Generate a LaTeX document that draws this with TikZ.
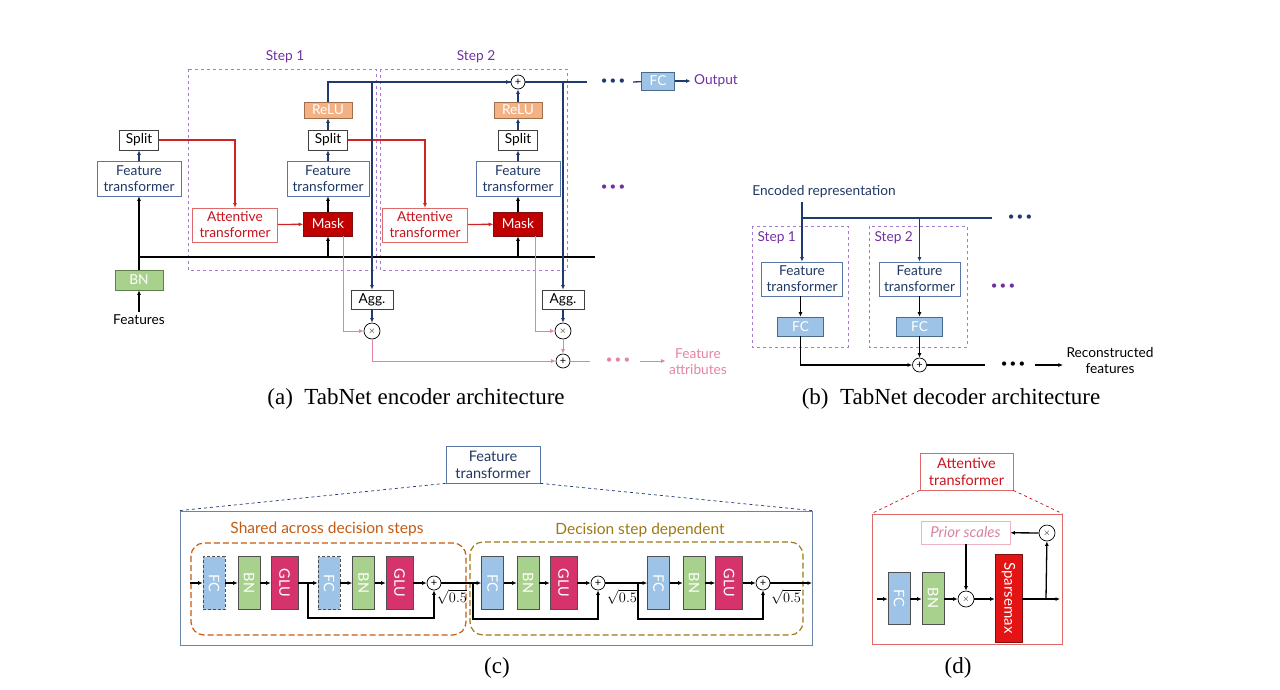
\documentclass[tikz,border=0pt]{standalone}
\usepackage{fontspec}
\setmainfont{Lato}
\newfontfamily\capfont{Liberation Serif}
\usepackage{graphicx}
\usepackage{tikz}
\usetikzlibrary{arrows.meta}
\definecolor{navyln}{HTML}{1F3A6E}
\definecolor{navytxt}{HTML}{1F3864}
\definecolor{ftedge}{HTML}{5877A6}
\definecolor{boxedge}{HTML}{404040}
\definecolor{redln}{HTML}{D02424}
\definecolor{atred}{HTML}{C8141E}
\definecolor{atedge}{HTML}{E06A6A}
\definecolor{maskfill}{HTML}{C00000}
\definecolor{maskedge}{HTML}{7A1010}
\definecolor{relufill}{HTML}{F4B183}
\definecolor{reluedge}{HTML}{A0704E}
\definecolor{pinkln}{HTML}{E4859F}
\definecolor{purpletxt}{HTML}{7030A0}
\definecolor{stepedge}{HTML}{A679D2}
\definecolor{bnfill}{HTML}{A9D18E}
\definecolor{bnedge}{HTML}{5F7F4C}
\definecolor{fcfill}{HTML}{9DC3E6}
\definecolor{fcedge}{HTML}{4A6A8C}
\definecolor{glufill}{HTML}{D6336C}
\definecolor{blkedge}{HTML}{505050}
\definecolor{bigedge}{HTML}{6A85A8}
\definecolor{orangec}{HTML}{C55A11}
\definecolor{olivec}{HTML}{9C7A16}
\definecolor{sparsefill}{HTML}{E41414}
\definecolor{prioredge}{HTML}{EDB3C3}
\definecolor{priortxt}{HTML}{D9859F}
\newcommand{\threedots}{{\fontsize{11.5}{12}\selectfont\textbullet\hspace{2.2pt}\textbullet\hspace{2.2pt}\textbullet}}

\begin{document}
\begin{tikzpicture}[x=1pt, y=-1pt, >={Latex[length=4.5pt,width=4pt]},
  every node/.style={font=\fontsize{13.7}{16}\selectfont},
  box/.style={draw=boxedge, fill=white, line width=.7pt, inner sep=0pt, align=center},
  ftbox/.style={box, draw=ftedge, text=navytxt, minimum width=84pt, minimum height=35pt},
  splitbox/.style={box, minimum width=39pt, minimum height=20pt},
  relubox/.style={box, draw=reluedge, fill=relufill, text=white, minimum width=48pt, minimum height=16pt},
  maskbox/.style={box, draw=maskedge, fill=maskfill, text=white, minimum width=49pt, minimum height=24pt},
  atbox/.style={box, draw=atedge, text=atred, minimum width=85pt, minimum height=34pt},
  aggbox/.style={box, minimum width=42pt, minimum height=19pt},
  bnbox/.style={box, draw=bnedge, fill=bnfill, text=white, minimum width=48pt, minimum height=20pt},
  fcbox/.style={box, draw=fcedge, fill=fcfill, text=white, minimum width=33pt, minimum height=18pt},
  op/.style={circle, draw, fill=white, line width=.7pt, inner sep=0pt, minimum size=14pt, font=\fontsize{11}{11}\selectfont},
  stepbox/.style={draw=stepedge, dashed, line width=.9pt},
  steplabel/.style={text=purpletxt},
  wire/.style={line width=1.3pt},
  navyw/.style={wire, draw=navyln},
  redw/.style={wire, draw=redln},
  pinkw/.style={draw=pinkln, line width=.9pt},
  blk/.style={draw=blkedge, line width=.6pt, inner sep=0pt, minimum width=22pt, minimum height=53pt, text=white, font=\fontsize{14.5}{15}\selectfont},
  fcblk/.style={blk, fill=fcfill},
  bnblk/.style={blk, fill=bnfill},
  glublk/.style={blk, fill=glufill, minimum width=27pt},
  captxt/.style={font=\capfont\fontsize{23}{26}\selectfont}
]
\useasboundingbox (0,0) rectangle (1280,689);

% (a) encoder
\draw[stepbox] (188,69) rectangle (376,270);
\draw[stepbox] (380,69) rectangle (567,270);
\node[steplabel] (s1) at (285,57) {Step 1};
\node[steplabel] (s2) at (476,57) {Step 2};
\node (feat) at (139,320) {Features};
\node[bnbox] (bn) at (139,280) {BN};
\node[ftbox] (ft0) at (139,178.5) {Feature\\transformer};
\node[splitbox] (sp0) at (139,140) {Split};
\node[atbox] (at1) at (235,225) {Attentive\\transformer};
\node[maskbox] (mask1) at (328,224) {Mask};
\node[ftbox, minimum width=82pt] (ft1) at (328,178.5) {Feature\\transformer};
\node[splitbox] (sp1) at (328,140) {Split};
\node[relubox] (relu1) at (328,110) {ReLU};
\node[atbox] (at2) at (425,225) {Attentive\\transformer};
\node[maskbox] (mask2) at (518,224) {Mask};
\node[ftbox] (ft2) at (518,178.5) {Feature\\transformer};
\node[splitbox] (sp2) at (518,140) {Split};
\node[relubox] (relu2) at (518,110) {ReLU};
\node[op] (plT) at (518,82) {+};
\node[aggbox] (agg1) at (372,299.5) {Agg.};
\node[op, minimum size=16pt, font=\fontsize{9}{9}\selectfont] (mul1) at (372,331) {$\times$};
\node[aggbox] (agg2) at (563,299.5) {Agg.};
\node[op, minimum size=16pt, font=\fontsize{9}{9}\selectfont] (mul2) at (563,331) {$\times$};
\node[op] (plB) at (563,361) {+};
\coordinate (busW) at (139,257);
\coordinate (busE) at (595,257);
\coordinate (topE) at (587,82);
\node[text=navyln] (dotsT) at (613,82) {\threedots};
\coordinate (fcIn) at (633,82);
\node[fcbox] (fcO) at (658,81) {FC};
\node[text=purpletxt] (out) at (716,81) {Output};
\node[text=purpletxt] (dotsM) at (613,188) {\threedots};
\coordinate (pinkE) at (590,361);
\node[text=pinkln] (dotsB) at (618,361) {\threedots};
\coordinate (pinkA) at (640,361);
\node[text=pinkln, align=center] (attr) at (698,362) {Feature\\attributes};

\draw[wire,->] (feat) -- (bn);
\draw[wire,->] (bn) -- (ft0);
\draw[wire] (busW) -- (busE);
\draw[navyw,->] (ft0) -- (sp0);
\draw[redw,->] (sp0) -| (at1);
\draw[redw,->] (at1) -- (mask1);
\draw[wire,->] (mask1 |- busW) -- (mask1);
\draw[wire,->] (mask1) -- (ft1);
\draw[navyw,->] (ft1) -- (sp1);
\draw[navyw,->] (sp1) -- (relu1);
\draw[navyw] (relu1) |- (plT);
\draw[redw,->] (sp1) -| (at2);
\draw[redw,->] (at2) -- (mask2);
\draw[wire,->] (mask2 |- busW) -- (mask2);
\draw[wire,->] (mask2) -- (ft2);
\draw[navyw,->] (ft2) -- (sp2);
\draw[navyw,->] (sp2) -- (relu2);
\draw[navyw,->] (relu2) -- (plT);
\draw[navyw,->] (relu1 |- plT) -- (plT);
\draw[navyw] (plT) -- (topE);
\draw[navyw,->] (agg1 |- plT) -- (agg1);
\draw[navyw,->] (agg1) -- (mul1);
\draw[navyw,->] (agg2 |- plT) -- (agg2);
\draw[navyw,->] (agg2) -- (mul2);
\draw[pinkw,->] ([xshift=-9pt]mask1.south east) |- (mul1);
\draw[pinkw,->] ([xshift=-7pt]mask2.south east) |- (mul2);
\draw[pinkw,->] (mul1) |- (plB);
\draw[pinkw,->] (mul2) -- (plB);
\draw[pinkw] (plB) -- (pinkE);
\draw[pinkw,->] (pinkA) -- (attr.west |- pinkA);
\draw[navyw] (fcIn) -- (fcO);
\draw[navyw,->] (fcO) -- (out);
\node[captxt] (capA) at (416,399) {(a)\ \ TabNet encoder architecture};

% (b) decoder
\draw[stepbox] (752,226) rectangle (848,347);
\draw[stepbox] (869,226) rectangle (967,347);
\node[steplabel, anchor=west] (ds1) at (754,238) {Step 1};
\node[steplabel, anchor=west] (ds2) at (871,238) {Step 2};
\node[text=navytxt] (enc) at (824,192) {Encoded representation};
\node[ftbox, minimum width=81pt, minimum height=34pt] (dft1) at (802,279) {Feature\\transformer};
\node[ftbox, minimum width=81pt, minimum height=34pt] (dft2) at (919.5,279) {Feature\\transformer};
\node[fcbox, minimum width=46pt, minimum height=19pt] (dfc1) at (800.5,326.5) {FC};
\node[fcbox, minimum width=46pt, minimum height=19pt] (dfc2) at (919.5,326.5) {FC};
\node[op] (dpl) at (919.5,365) {+};
\coordinate (dEnd) at (992,218);
\node[text=navyln] (ddotsT) at (1020,218) {\threedots};
\node[text=purpletxt] (ddotsM) at (1003,287) {\threedots};
\coordinate (dE) at (985,365);
\node (ddotsB) at (1013,365) {\threedots};
\coordinate (dA) at (1035,365);
\node[align=center] (rec) at (1110,361) {Reconstructed\\features};
\draw[navyw,->] (dft1 |- enc.south) -- (dft1);
\draw[navyw] (dft1 |- dEnd) -- (dEnd);
\draw[navyw,->] (dft2 |- dEnd) -- (dft2);
\draw[wire,->] (dft1.south -| dfc1) -- (dfc1);
\draw[wire,->] (dft2) -- (dfc2);
\draw[wire,->] (dfc1) |- (dpl);
\draw[wire,->] (dfc2) -- (dpl);
\draw[wire] (dpl) -- (dE);
\draw[wire,->] (dA) -- (rec.west |- dA);
\node[captxt] (capB) at (951,399) {(b)\ \ TabNet decoder architecture};

% (c) feature transformer
\node[box, draw=ftedge, text=navytxt, minimum width=94pt, minimum height=37pt, font=\fontsize{14.5}{17}\selectfont] (ftT) at (493,464.5) {Feature\\transformer};
\node[draw=bigedge, line width=.8pt, minimum width=632pt, minimum height=134pt, inner sep=0pt] (bigC) at (496,578) {};
\draw[draw=navyln, dashed, line width=.7pt] (ftT.south west) -- (bigC.north west);
\draw[draw=navyln, dashed, line width=.7pt] (ftT.south east) -- (bigC.north east);
\draw[draw=orangec, line width=1.2pt, dash pattern=on 6pt off 3pt, rounded corners=13pt] (191,543) rectangle (466,635);
\draw[draw=olivec, line width=1.2pt, dash pattern=on 6pt off 3pt, rounded corners=13pt] (470,542) rectangle (803,635);
\node[text=orangec, font=\fontsize{15.5}{17}\selectfont] (shrd) at (327,529) {Shared across decision steps};
\node[text=olivec, font=\fontsize{15.5}{17}\selectfont] (dep) at (640,530) {Decision step dependent};
\coordinate (cIn) at (190,583);
\node[fcblk, densely dashed] (fcA) at (214,583) {\rotatebox{-90}{FC}};
\node[bnblk] (bnA) at (249,583) {\rotatebox{-90}{BN}};
\node[glublk] (gluA) at (284.5,583) {\rotatebox{-90}{GLU}};
\node[fcblk, densely dashed] (fcB) at (329,583) {\rotatebox{-90}{FC}};
\node[bnblk] (bnB) at (363.5,583) {\rotatebox{-90}{BN}};
\node[glublk] (gluB) at (399.5,583) {\rotatebox{-90}{GLU}};
\node[op] (plA) at (434,583) {+};
\node[fcblk] (fcC) at (492.5,583) {\rotatebox{-90}{FC}};
\node[bnblk] (bnC) at (528,583) {\rotatebox{-90}{BN}};
\node[glublk] (gluC) at (563.5,583) {\rotatebox{-90}{GLU}};
\node[op] (plC) at (598,583) {+};
\node[fcblk] (fcD) at (658.5,583) {\rotatebox{-90}{FC}};
\node[bnblk] (bnD) at (694,583) {\rotatebox{-90}{BN}};
\node[glublk] (gluD) at (729,583) {\rotatebox{-90}{GLU}};
\node[op] (plD) at (763,583) {+};
\coordinate (cOut) at (812,583);
\coordinate (skA) at (308,583);
\coordinate (skC) at (473,583);
\coordinate (skD) at (638,583);
\node[font=\fontsize{13.5}{13.5}\selectfont] (rtA) at (452,597) {$\sqrt{0.5}$};
\node[font=\fontsize{13.5}{13.5}\selectfont] (rtC) at (622,597) {$\sqrt{0.5}$};
\node[font=\fontsize{13.5}{13.5}\selectfont] (rtD) at (786,597) {$\sqrt{0.5}$};
\draw[wire,->] (cIn) -- (fcA);
\draw[wire,->] (fcA) -- (bnA);
\draw[wire,->] (bnA) -- (gluA);
\draw[wire,->] (gluA) -- (fcB);
\draw[wire,->] (fcB) -- (bnB);
\draw[wire,->] (bnB) -- (gluB);
\draw[wire,->] (gluB) -- (plA);
\draw[wire,->] (plA) -- (fcC);
\draw[wire,->] (fcC) -- (bnC);
\draw[wire,->] (bnC) -- (gluC);
\draw[wire,->] (gluC) -- (plC);
\draw[wire,->] (plC) -- (fcD);
\draw[wire,->] (fcD) -- (bnD);
\draw[wire,->] (bnD) -- (gluD);
\draw[wire,->] (gluD) -- (plD);
\draw[wire,->] (plD) -- (cOut);
\draw[wire,->] (skA) -- ++(0,35) -| (plA);
\draw[wire,->] (skC) -- ++(0,36) -| (plC);
\draw[wire,->] (skD) -- ++(0,36) -| (plD);
\node[captxt] (capC) at (497,668) {(c)};

% (d) attentive transformer
\node[box, draw=atedge, text=atred, minimum width=93pt, minimum height=37pt, font=\fontsize{14.5}{17}\selectfont] (atT) at (966.5,471.5) {Attentive\\transformer};
\node[draw=atedge, line width=.8pt, minimum width=190pt, minimum height=130pt, inner sep=0pt] (bigD) at (967,579) {};
\draw[draw=atred, dashed, line width=.7pt] (atT.south west) -- (bigD.north west);
\draw[draw=atred, dashed, line width=.7pt] (atT.south east) -- (bigD.north east);
\node[box, draw=prioredge, text=priortxt, minimum width=89pt, minimum height=23pt, font=\itshape\fontsize{15}{17}\selectfont] (prior) at (965.5,532.5) {Prior scales};
\node[op, minimum size=16pt, font=\fontsize{9}{9}\selectfont] (mulT) at (1047,533) {$\times$};
\coordinate (dIn) at (877,599);
\node[fcblk, minimum height=52pt] (fcE) at (899,598) {\rotatebox{-90}{FC}};
\node[bnblk, minimum height=52pt] (bnE) at (933,598) {\rotatebox{-90}{BN}};
\node[op, minimum size=16pt, font=\fontsize{9}{9}\selectfont] (mulD) at (966,599) {$\times$};
\node[blk, draw=maskedge, fill=sparsefill, minimum width=27pt, minimum height=88pt, font=\fontsize{15}{15}\selectfont] (spx) at (1008.5,598) {\rotatebox{-90}{Sparsemax}};
\coordinate (dJ) at (1046,599);
\coordinate (dOut) at (1060,599);
\draw[wire,->] (dIn) -- (fcE.west |- dIn);
\draw[wire,->] (fcE.east |- dIn) -- (bnE.west |- dIn);
\draw[wire,->] (bnE.east |- dIn) -- (mulD);
\draw[wire,->] (mulD) -- (spx.west |- mulD);
\draw[wire,->] (spx.east |- mulD) -- (dOut);
\draw[wire,->] (dJ) -- (mulT);
\draw[wire,->] (mulT) -- (prior);
\draw[wire,->] (mulD |- prior.south) -- (mulD);
\node[captxt] (capD) at (958,668) {(d)};
\end{tikzpicture}
\end{document}
